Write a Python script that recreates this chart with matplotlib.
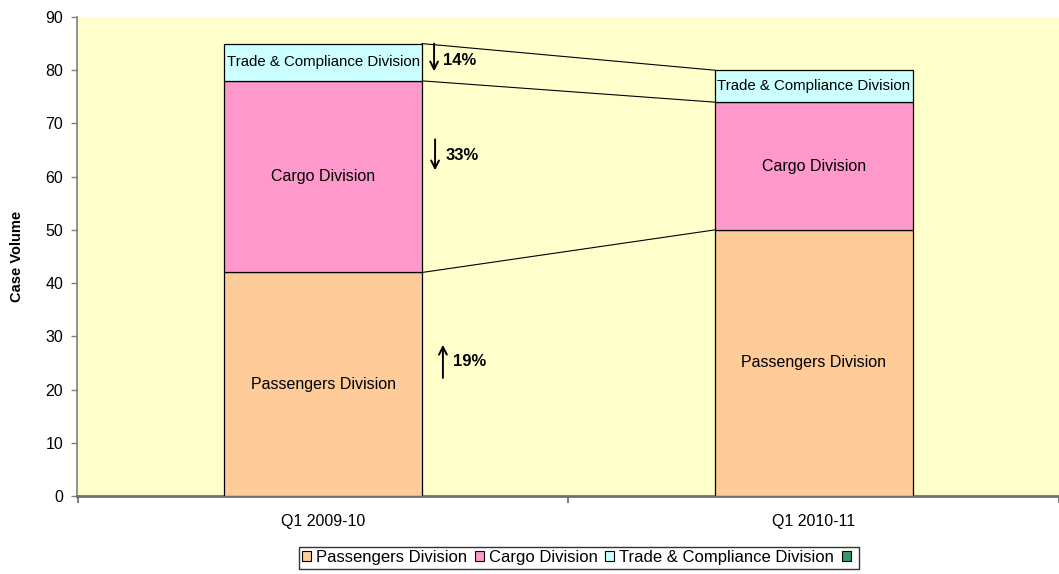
import matplotlib
matplotlib.use("Agg")
import matplotlib.pyplot as plt
from matplotlib.patches import Patch
import numpy as np

plt.rcParams['font.family'] = ['Liberation Sans', 'DejaVu Sans']

categories = ["Q1 2009-10", "Q1 2010-11"]
series_names = ["Passengers Division", "Cargo Division", "Trade & Compliance Division"]
passengers = [42, 50]
cargo = [36, 24]
trade = [7, 6]
colors = ["#FFCC99", "#FF99CC", "#CCFFFF"]
extra_legend_color = "#339966"

fig = plt.figure(figsize=(10.59, 5.74), dpi=100)
ax = fig.add_axes([77/1059, 1-496/574, 1-77/1059, (496-17)/574])
ax.set_facecolor("#FFFFCC")

x = np.arange(len(categories))
width = 0.403
series = [passengers, cargo, trade]
bottoms = np.zeros(len(categories))
tops = []
for vals, col in zip(series, colors):
    vals = np.array(vals, dtype=float)
    ax.bar(x, vals, width, bottom=bottoms, color=col, edgecolor="black", linewidth=0.9, zorder=3)
    bottoms = bottoms + vals
    tops.append(bottoms.copy())

# connector lines between bars (top of each segment)
for t in tops:
    ax.plot([x[0] + width/2, x[1] - width/2], [t[0], t[1]], color="black", lw=0.8, zorder=2)

# segment labels
base = np.zeros(len(categories))
for vals, name in zip(series, series_names):
    vals = np.array(vals, dtype=float)
    for i in range(len(categories)):
        fs = 11.5
        if name.startswith("Trade"):
            fs = 10.8
        ax.text(x[i], base[i] + vals[i]/2, name, ha="center", va="center", fontsize=fs,
                zorder=4, clip_on=False)
    base = base + vals

# change arrows
changes = [(b - a) / a * 100 for a, b in zip([s[0] for s in series], [s[1] for s in series])]
arrow_specs = [  # (series index, arrow x, y0, y1, text x, text y)
    (0, 0.244, 22.2, 28.4, 0.264, 25.2),
    (1, 0.228, 67.0, 61.2, 0.250, 63.9),
    (2, 0.226, 85.0, 79.8, 0.244, 81.9),
]
for idx, ax_x, y0, y1, tx, ty in arrow_specs:
    if changes[idx] < 0:
        ya, yb = max(y0, y1), min(y0, y1)
    else:
        ya, yb = min(y0, y1), max(y0, y1)
    ax.annotate("", xy=(ax_x, yb), xytext=(ax_x, ya),
                arrowprops=dict(arrowstyle="->,head_length=0.55,head_width=0.28", lw=1.4, color="black",
                                shrinkA=0, shrinkB=0), zorder=5)
    ax.text(tx, ty, f"{abs(round(changes[idx])):d}%", fontsize=12, fontweight="bold",
            ha="left", va="center", zorder=5)

ax.set_xlim(-0.502, 1.478)
ax.set_ylim(0, 90)
ax.set_yticks(np.arange(0, 91, 10))
ax.set_xticks(x)
ax.set_xticklabels(categories, fontsize=11.5)
ax.set_xticks([-0.5, 0.5, 1.5], minor=True)
ax.tick_params(axis="x", which="major", length=0, pad=13)
ax.tick_params(axis="x", which="minor", length=5, width=1.5, color="#808080")
ax.tick_params(axis="y", labelsize=11.5, length=4, color="#808080", width=1, pad=6)
ax.set_ylabel("Case Volume", fontsize=10.5, fontweight="bold")
ax.yaxis.set_label_coords(-(77-24)/982, 0.5)

for s in ["top", "right"]:
    ax.spines[s].set_visible(False)
ax.spines["left"].set_color("#808080")
ax.spines["left"].set_linewidth(1.2)
ax.spines["bottom"].set_color("#707070")
ax.spines["bottom"].set_linewidth(2)

handles = [Patch(facecolor=c, edgecolor="black", linewidth=0.8) for c in colors]
handles.append(Patch(facecolor=extra_legend_color, edgecolor="black", linewidth=0.8))
labels = series_names + [""]
leg = fig.legend(handles, labels, loc="upper center", bbox_to_anchor=(579/1059, 1-547/574), ncol=4,
                 fontsize=12, frameon=True, fancybox=False, edgecolor="black",
                 handlelength=0.55, handleheight=0.55, handletextpad=0.3, columnspacing=0.45,
                 borderpad=0.2, borderaxespad=0)
leg.get_frame().set_linewidth(1.0)

fig.savefig("out.png", dpi=100)
